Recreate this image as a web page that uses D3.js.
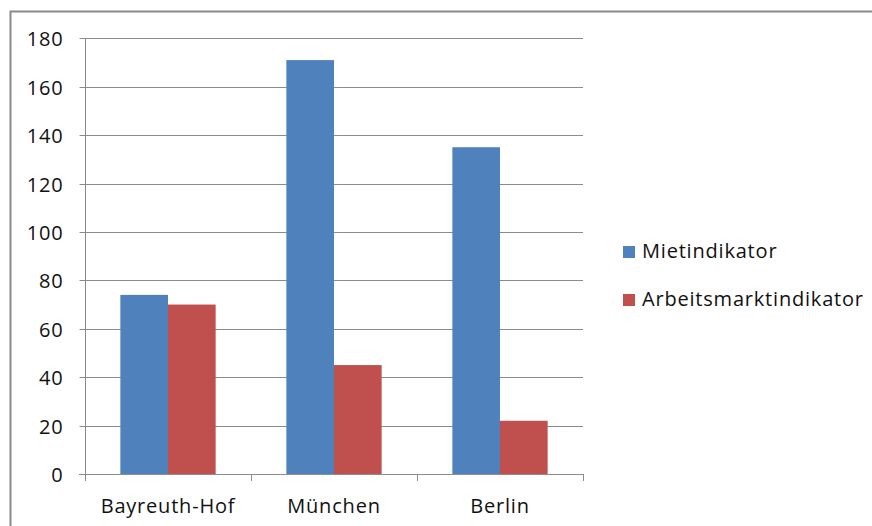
<!DOCTYPE html>
<html><head><meta charset="utf-8">
<script src="https://cdn.jsdelivr.net/npm/d3@7"></script>
<style>
body{margin:0;background:#fff;}
text{font-family:"Open Sans","Liberation Sans",sans-serif;fill:#111;letter-spacing:0.8px;}
</style></head>
<body><svg id="c" width="872" height="526"></svg>
<script>
const categories = ["Bayreuth-Hof","München","Berlin"];
const seriesNames = ["Mietindikator","Arbeitsmarktindikator"];
const mietValues = [74,171,135];
const arbeitValues = [70,45,22];
const yTicks = [0,20,40,60,80,100,120,140,160,180];
const colors = ["#4F81BD","#C0504D"];

const svg = d3.select("#c");
svg.append("rect").attr("x",10.5).attr("y",11.5).attr("width",900).attr("height",600)
  .attr("fill","#fff").attr("stroke","#8a8a8a").attr("stroke-width",2);

const m = {left:85, right:583, top:38.3, bottom:474};
const x = d3.scaleBand().domain(categories).range([m.left,m.right]).paddingInner(0.426).paddingOuter(0.213);
const y = d3.scaleLinear().domain([0,180]).range([m.bottom,m.top]);
const xs = d3.scaleBand().domain([0,1]).range([0,x.bandwidth()]);

// gridlines
svg.append("g").selectAll("line").data(yTicks.filter(d=>d>0)).join("line")
  .attr("x1",m.left).attr("x2",m.right).attr("y1",d=>Math.round(y(d))+0.5).attr("y2",d=>Math.round(y(d))+0.5)
  .attr("stroke","#8c8c8c").attr("stroke-width",1);

// bars
const data = categories.map((c,i)=>({c, vals:[mietValues[i],arbeitValues[i]]}));
const g = svg.append("g").selectAll("g").data(data).join("g").attr("transform",d=>`translate(${x(d.c)},0)`);
g.selectAll("rect").data(d=>d.vals.map((v,k)=>({v,k}))).join("rect")
  .attr("x",d=>xs(d.k)).attr("width",xs.bandwidth())
  .attr("y",d=>y(d.v)).attr("height",d=>y(0)-y(d.v)).attr("fill",d=>colors[d.k]);

// y axis
const ya = d3.axisLeft(y).tickValues(yTicks).tickSize(6).tickPadding(16);
const yg = svg.append("g").attr("transform",`translate(${m.left+0.5},0)`).call(ya);
yg.select(".domain").attr("stroke","#8c8c8c").attr("d",`M0,${m.top}V${m.bottom}`);
yg.selectAll(".tick line").attr("stroke","#8c8c8c");
yg.selectAll(".tick").attr("transform",d=>`translate(0,${Math.round(y(d))+0.5})`);
yg.selectAll("text").attr("font-size",20).attr("fill","#111").attr("dy","0.36em").attr("font-family",null);

// x axis
const xEdge = d3.scaleLinear().domain([0,categories.length]).range([m.left,m.right]);
const xg = svg.append("g");
xg.append("line").attr("x1",m.left-6).attr("x2",m.right).attr("y1",m.bottom+0.5).attr("y2",m.bottom+0.5).attr("stroke","#8c8c8c");
xg.selectAll("line.t").data(d3.range(categories.length+1)).join("line").attr("class","t")
  .attr("x1",d=>Math.round(xEdge(d))+0.5).attr("x2",d=>Math.round(xEdge(d))+0.5)
  .attr("y1",m.bottom).attr("y2",m.bottom+7).attr("stroke","#8c8c8c");
xg.selectAll("text").data(categories).join("text")
  .attr("x",d=>x(d)+x.bandwidth()/2).attr("y",513).attr("text-anchor","middle")
  .attr("font-size",20).text(d=>d);

// legend
const lg = svg.append("g").selectAll("g").data(seriesNames).join("g")
  .attr("transform",(d,i)=>`translate(623,${246+i*48})`);
lg.append("rect").attr("width",12).attr("height",12).attr("fill",(d,i)=>colors[i]);
lg.append("text").attr("x",19).attr("y",12).attr("font-size",20).text(d=>d);
</script></body></html>
